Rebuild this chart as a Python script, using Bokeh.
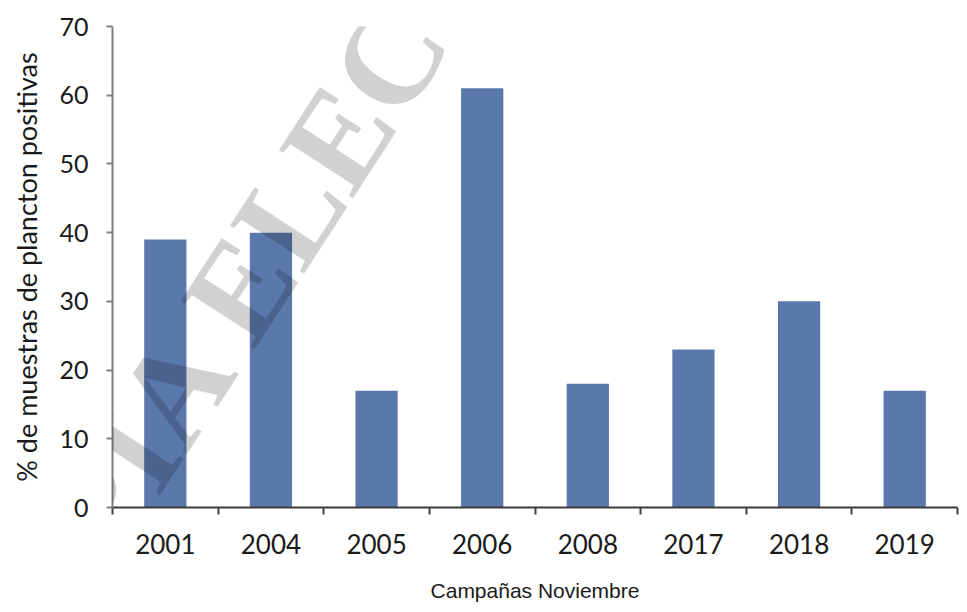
from bokeh.plotting import figure
from bokeh.models import FixedTicker, Range1d, Label
from bokeh.embed import file_html
from bokeh.resources import INLINE

years = ["2001", "2004", "2005", "2006", "2008", "2017", "2018", "2019"]
values = [39, 40, 17, 61, 18, 23, 30, 17]
y_ticks = [0, 10, 20, 30, 40, 50, 60, 70]

centers = [i + 0.5 for i in range(len(years))]

p = figure(width=959, height=604, output_backend="svg", toolbar_location=None,
           x_range=Range1d(0, len(years)), y_range=Range1d(0, 70),
           min_border_top=26, min_border_left=112, min_border_right=2,
           min_border_bottom=96)
p.outline_line_color = None
p.grid.visible = False
p.background_fill_color = "white"
p.border_fill_color = "white"

p.vbar(x=centers, top=values, width=0.4, bottom=0, color="#5B78AD", line_color=None)

# x axis
xa = p.xaxis[0]
xa.ticker = FixedTicker(ticks=centers, minor_ticks=list(range(len(years) + 1)))
xa.major_label_overrides = {c: y for c, y in zip(centers, years)}
xa.major_tick_out = 0
xa.major_tick_in = 0
xa.minor_tick_out = 7
xa.minor_tick_in = 0
xa.minor_tick_line_color = "#404040"
xa.minor_tick_line_width = 2
xa.axis_line_color = "#3a3a3a"
xa.axis_line_width = 2
xa.major_label_text_font = "Lato"
xa.major_label_text_font_size = "26px"
xa.major_label_text_color = "#1a1a1a"
xa.major_label_standoff = 19
xa.axis_label = "Campañas Noviembre"
xa.axis_label_text_font = "Liberation Sans"
xa.axis_label_text_font_style = "normal"
xa.axis_label_text_font_size = "21px"
xa.axis_label_text_color = "#1a1a1a"
xa.axis_label_standoff = 22

# y axis
ya = p.yaxis[0]
ya.ticker = FixedTicker(ticks=y_ticks)
ya.minor_tick_line_color = None
ya.major_tick_out = 6
ya.major_tick_in = 0
ya.major_tick_line_color = "#7f7f7f"
ya.major_tick_line_width = 2
ya.axis_line_color = "#7f7f7f"
ya.axis_line_width = 2
ya.major_label_text_font = "Lato"
ya.major_label_text_font_size = "25px"
ya.major_label_text_color = "#1a1a1a"
ya.major_label_standoff = 18
ya.axis_label = "% de muestras de plancton positivas"
ya.axis_label_text_font = "Lato"
ya.axis_label_text_font_style = "normal"
ya.axis_label_text_font_size = "27px"
ya.axis_label_text_color = "#1a1a1a"
ya.axis_label_standoff = 13

# watermark
wm = Label(x=2.396, y=60.0, text="COPIA ELECTRÓNICA", angle=57, angle_units="deg",
           text_align="center", text_baseline="middle",
           text_font="Liberation Serif", text_font_style="bold",
           text_font_size="135px", text_color="black", text_alpha=0.18)
p.add_layout(wm)

open("out.html", "w").write(file_html(p, INLINE))
